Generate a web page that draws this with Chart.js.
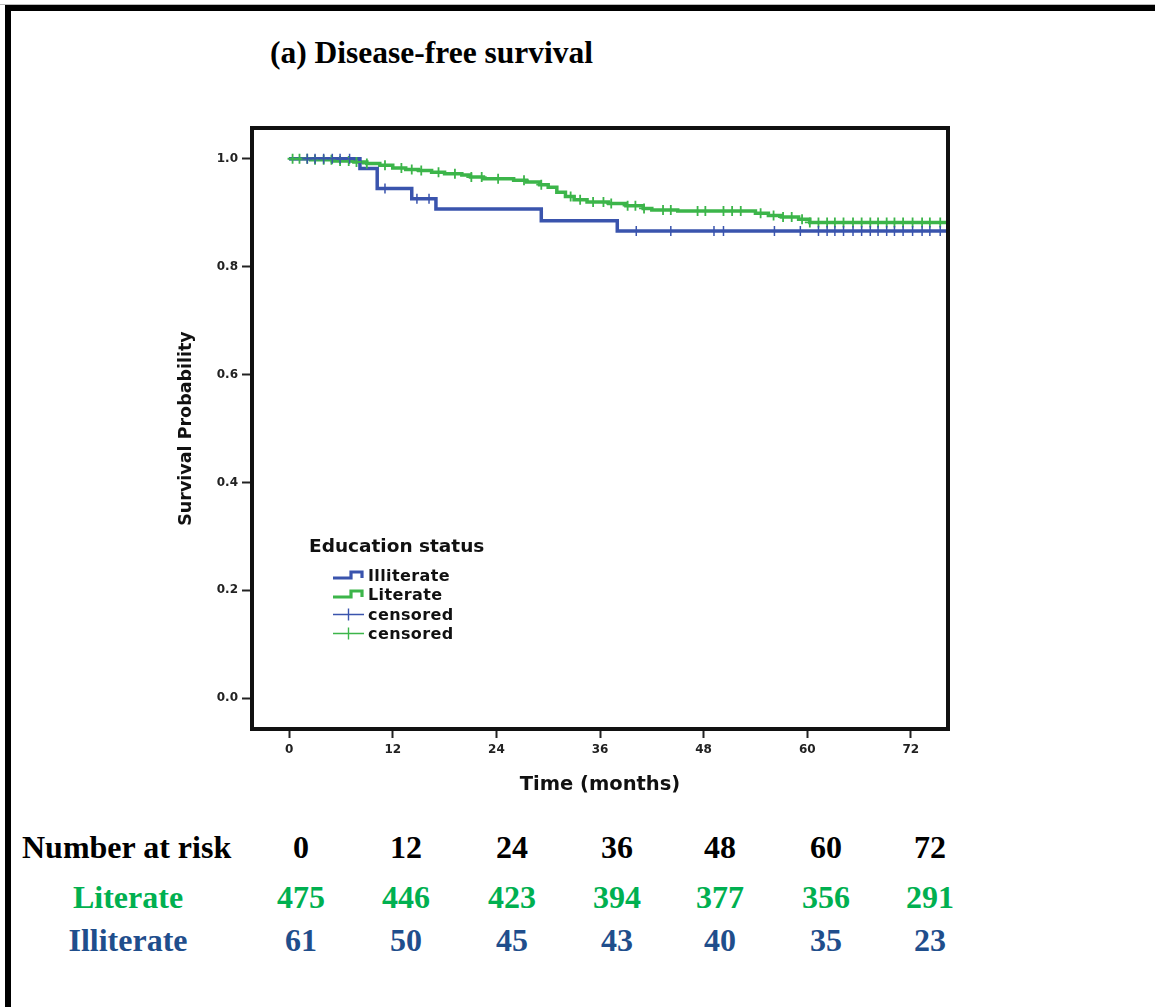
<!DOCTYPE html>
<html>
<head>
<meta charset="utf-8">
<script src="https://cdn.jsdelivr.net/npm/chart.js@4"></script>
<style>
  html, body { margin: 0; padding: 0; background: #fff; }
  #page { position: relative; width: 1155px; height: 1007px; overflow: hidden; }
  #frameTop { position: absolute; left: 0; top: 4px; width: 1155px; height: 1px; background: #bbb; }
  #frame { position: absolute; left: 5px; top: 5px; width: 1200px; height: 1100px;
           border-top: 6px solid #000; border-left: 6px solid #000; }
  #chartCanvas { position: absolute; left: 150px; top: 100px; }
  .t { position: absolute; white-space: nowrap; transform: translate(-50%, -50%); }
  .serif { font-family: "Liberation Serif", "Times New Roman", serif; font-weight: bold; }
  .sans { font-family: "DejaVu Sans", Arial, sans-serif; font-weight: bold; }
  #title { position: absolute; left: 270px; top: 53px; transform: translateY(-50%); font-size: 31.5px; }
  .risk { font-size: 32px; }
  .legendHead { position: absolute; left: 309px; top: 545px; transform: translateY(-50%); font-size: 18.5px; color: #111; }
  .legendRow { position: absolute; left: 332px; transform: translateY(-50%); font-size: 16px; color: #111;
               display: flex; align-items: center; letter-spacing: 0.4px; }
  .legendRow svg { margin-right: 3px; }
</style>
</head>
<body>
<div id="page">
  <div id="frameTop"></div>
  <div id="frame"></div>
  <div id="title" class="serif">(a) Disease-free survival</div>
  <canvas id="chartCanvas" width="850" height="720"></canvas>
  <div id="legend"></div>
  <div id="riskTable"></div>
</div>
<script>
// axes
const xTicks = [0, 12, 24, 36, 48, 60, 72];
const yTicks = [0.0, 0.2, 0.4, 0.6, 0.8, 1.0];

// Illiterate (blue) Kaplan-Meier steps
const illiterateTime = [0, 8.2, 10.2, 14.2, 17.0, 29.2, 38.0, 76.3];
const illiterateSurv = [1.0, 0.982, 0.945, 0.926, 0.907, 0.885, 0.866, 0.866];
const illiterateCensor = [2.1, 3.0, 4.0, 5.0, 5.9, 7.0, 11.1, 14.8, 16.2, 40.2, 44.2, 49.2, 50.3,
    56.2, 59.2, 61.3, 62.3, 63.2, 64.2, 65.3, 66.3, 67.3, 68.2, 69.2, 70.1, 71.1, 72.2, 73.3, 74.2, 75.4];

// Literate (green) Kaplan-Meier steps
const literateTime = [0, 2.5, 5, 7.5, 9, 10.5, 12, 13.5, 15, 16.5, 18, 20, 21, 22.5, 26, 27.5,
    29, 30, 31, 32, 33, 34.5, 37, 39, 41, 42, 45, 54, 55.5, 57, 59, 60.3, 76.3];
const literateSurv = [1.0, 0.998, 0.996, 0.994, 0.991, 0.988, 0.983, 0.980, 0.978, 0.975, 0.972, 0.970,
    0.966, 0.963, 0.960, 0.957, 0.952, 0.947, 0.938, 0.930, 0.924, 0.920, 0.917, 0.913, 0.908, 0.905,
    0.903, 0.899, 0.895, 0.892, 0.888, 0.882, 0.882];
const literateCensor = [0.4, 1.2, 2.1, 3.0, 4.0, 4.9, 5.9, 6.9, 7.8, 9.0, 11.1, 13.0, 14.2, 15.3, 17.3,
    19.2, 21.1, 22.3, 24.2, 27.2, 29.2, 32.6, 33.7, 35.2, 36.4, 37.3, 39.2, 40.1, 41.1, 43.3, 44.2,
    47.3, 48.2, 50.3, 51.3, 52.3, 54.6, 56.1, 57.2, 58.2, 59.4, 60.3, 61.3, 62.3, 63.2, 64.2, 65.3,
    66.3, 67.3, 68.2, 69.2, 70.1, 71.1, 72.2, 73.3, 74.2, 75.4, 76.2];

// number at risk
const riskLabels = ['0', '12', '24', '36', '48', '60', '72'];
const literateRisk = [475, 446, 423, 394, 377, 356, 291];
const illiterateRisk = [61, 50, 45, 43, 40, 35, 23];

const blue = '#3a54ad';
const green = '#3cb54a';

function survAt(times, surv, t) {
    let s = surv[0];
    for (let i = 0; i < times.length; i++) {
        if (times[i] <= t) s = surv[i];
    }
    return s;
}

function steps(times, surv) {
    return times.map((t, i) => ({ x: t, y: surv[i] }));
}

function marks(censor, times, surv) {
    return censor.map(t => ({ x: t, y: survAt(times, surv, t) }));
}

const boxPlugin = {
    id: 'box',
    afterDatasetsDraw(chart) {
        const { ctx, chartArea: a } = chart;
        ctx.save();
        ctx.strokeStyle = '#111';
        ctx.lineWidth = 4;
        ctx.strokeRect(a.left, a.top, a.right - a.left, a.bottom - a.top);
        ctx.restore();
    }
};

const tickFont = { family: 'DejaVu Sans', weight: 'bold', size: 12 };

new Chart(document.getElementById('chartCanvas').getContext('2d'), {
    type: 'line',
    data: {
        datasets: [
            {
                label: 'Literate',
                data: steps(literateTime, literateSurv),
                borderColor: green,
                borderWidth: 3.5,
                stepped: 'before',
                pointRadius: 0,
                fill: false,
                order: 4
            },
            {
                label: 'Illiterate',
                data: steps(illiterateTime, illiterateSurv),
                borderColor: blue,
                borderWidth: 3.5,
                stepped: 'before',
                pointRadius: 0,
                fill: false,
                order: 3
            },
            {
                label: 'censored',
                data: marks(literateCensor, literateTime, literateSurv),
                showLine: false,
                pointStyle: 'cross',
                pointRadius: 5,
                borderColor: green,
                borderWidth: 1.8,
                order: 2
            },
            {
                label: 'censored',
                data: marks(illiterateCensor, illiterateTime, illiterateSurv),
                showLine: false,
                pointStyle: 'cross',
                pointRadius: 5,
                borderColor: blue,
                borderWidth: 1.5,
                order: 1
            }
        ]
    },
    options: {
        responsive: false,
        animation: false,
        layout: { padding: { left: 0, top: 28, right: 52, bottom: 21 } },
        plugins: { legend: { display: false }, tooltip: { enabled: false } },
        scales: {
            x: {
                type: 'linear',
                min: -4.3,
                max: 76.3,
                afterBuildTicks: s => { s.ticks = xTicks.map(v => ({ value: v })); },
                afterFit: s => { s.height = 70; },
                ticks: { color: '#222', font: tickFont, padding: 5, maxRotation: 0,
                         callback: v => String(v) },
                grid: { drawOnChartArea: false, drawTicks: true, tickLength: 9,
                        tickColor: '#222', tickWidth: 2 },
                border: { display: false },
                title: { display: true, text: 'Time (months)', color: '#111',
                         font: { family: 'DejaVu Sans', weight: 'bold', size: 19.5 },
                         padding: { top: 0, bottom: 2 } }
            },
            y: {
                min: -0.057,
                max: 1.057,
                afterBuildTicks: s => { s.ticks = yTicks.map(v => ({ value: v })); },
                afterFit: s => { s.width = 102; },
                ticks: { color: '#222', font: tickFont, padding: 4,
                         callback: v => v.toFixed(1) },
                grid: { drawOnChartArea: false, drawTicks: true, tickLength: 10,
                        tickColor: '#222', tickWidth: 2 },
                border: { display: false },
                title: { display: true, text: 'Survival Probability', color: '#111',
                         font: { family: 'DejaVu Sans', weight: 'bold', size: 17.5 },
                         padding: { top: 26, bottom: 0 } }
            }
        }
    },
    plugins: [boxPlugin]
});

// legend inside the plot
function legendSymbol(color, kind) {
    if (kind === 'step') {
        return '<svg width="33" height="12"><path d="M1,8.5 H19 V2.5 H30 V8.5" fill="none" stroke="' +
            color + '" stroke-width="3.2"/></svg>';
    }
    return '<svg width="33" height="14"><path d="M1,7 H32 M16.5,1 V13" fill="none" stroke="' +
        color + '" stroke-width="1.4"/></svg>';
}
const legendItems = [
    { text: 'Illiterate', color: blue, kind: 'step', y: 575 },
    { text: 'Literate', color: green, kind: 'step', y: 594 },
    { text: 'censored', color: blue, kind: 'cross', y: 614 },
    { text: 'censored', color: green, kind: 'cross', y: 633 }
];
let lg = '<div class="legendHead sans">Education status</div>';
legendItems.forEach(it => {
    lg += '<div class="legendRow sans" style="top:' + it.y + 'px">' +
        legendSymbol(it.color, it.kind) + '<span>' + it.text + '</span></div>';
});
document.getElementById('legend').innerHTML = lg;

// number at risk table
const colX = [301, 406, 512, 617, 720, 826, 930];
const rows = [
    { label: 'Number at risk', values: riskLabels, color: '#000', y: 847, left: true },
    { label: 'Literate', values: literateRisk, color: '#00b050', y: 897 },
    { label: 'Illiterate', values: illiterateRisk, color: '#1f4e8c', y: 940 }
];
let html = '';
rows.forEach(r => {
    if (r.left) {
        html += '<div class="serif risk" style="position:absolute;left:22px;top:' + r.y +
            'px;transform:translateY(-50%);color:' + r.color + '">' + r.label + '</div>';
    } else {
        html += '<div class="t serif risk" style="left:128px;top:' + r.y + 'px;color:' + r.color + '">' +
            r.label + '</div>';
    }
    r.values.forEach((v, i) => {
        html += '<div class="t serif risk" style="left:' + colX[i] + 'px;top:' + r.y + 'px;color:' +
            r.color + '">' + v + '</div>';
    });
});
document.getElementById('riskTable').innerHTML = html;
</script>
</body>
</html>
